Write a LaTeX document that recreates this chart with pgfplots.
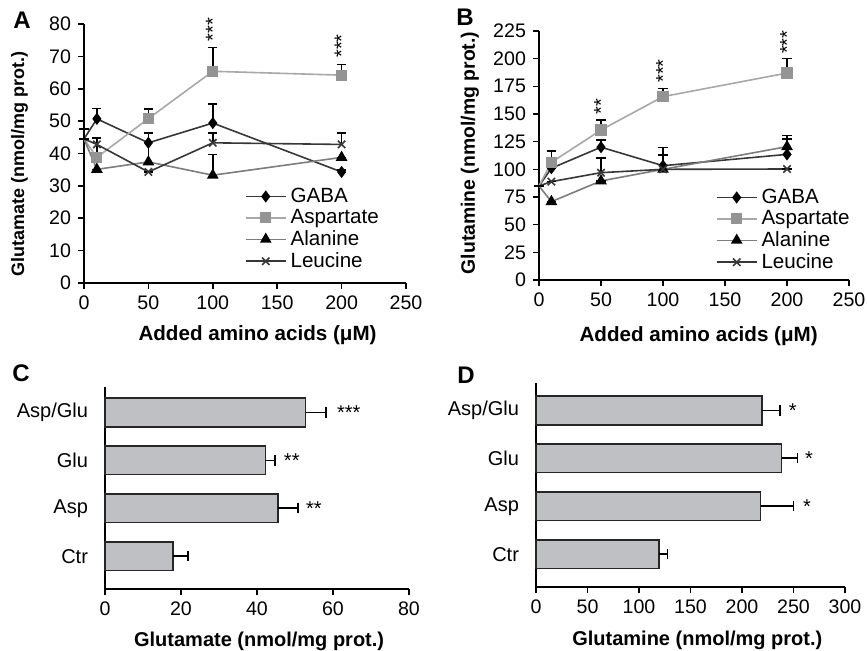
\documentclass[border=0pt]{standalone}
\usepackage{fontspec}
\setmainfont{Liberation Sans}
\usepackage{pgfplots}
\pgfplotsset{compat=1.18}

\definecolor{barfill}{RGB}{191,192,196}
\definecolor{aspline}{RGB}{168,168,168}
\definecolor{aspmark}{RGB}{148,148,148}
\definecolor{darkline}{RGB}{55,55,55}
\definecolor{alaline}{RGB}{125,125,125}

\tikzset{stars/.style={inner sep=0, font=\fontsize{10}{12}\selectfont}}

\pgfplotsset{
  panel/.style={
    scale only axis,
    axis lines=left,
    axis line style={-, line width=0.8pt},
    tick align=outside,
    major tick length=3pt,
    tick style={line width=0.8pt, black},
    ticklabel style={font=\fontsize{9.8}{11}\selectfont},
    /pgf/number format/assume math mode=true,
    clip=false,
  },
  linepanel/.style={
    panel, xmin=0, xmax=250, xtick={0,50,...,250}, ymin=0,
    legend style={draw=none, fill=none, font=\fontsize{10.3}{12}\selectfont,
      row sep=-2pt, legend cell align=left},
    legend image code/.code={%
      \draw[##1, mark repeat=2, mark phase=2] plot coordinates {(0pt,0pt) (10pt,0pt) (20pt,0pt)};},
  },
  % no marks at x = 0: marks start from the second point
  errs/.style={line width=0.8pt, mark repeat=1, mark phase=2,
      error bars/y dir=plus, error bars/y explicit,
      error bars/error bar style={black, line width=0.8pt, solid},
      error bars/error mark options={rotate=90, black, line width=0.8pt, mark size=2.3pt}},
  barpanel/.style={
    panel, xbar, bar width=0.6, xmin=0,
    ytick={0,1,2,3}, yticklabels={Ctr,Asp,Glu,Asp/Glu},
    ytick style={draw=none},
    yticklabel style={font=\fontsize{10}{12}\selectfont, xshift=-2pt},
  },
  bars/.style={fill=barfill, draw=black!85, line width=0.8pt,
      error bars/x dir=plus, error bars/x explicit,
      error bars/error bar style={black, line width=0.8pt},
      error bars/error mark options={rotate=90, black, line width=0.8pt, mark size=2.6pt}},
  gaba/.style={errs, darkline, mark=diamond*, mark options={black, fill=black, mark size=2.4pt}},
  asp/.style={errs, aspline, mark=square*, mark options={aspmark, fill=aspmark, mark size=2.4pt}},
  ala/.style={errs, alaline, mark=triangle*, mark options={black, fill=black, mark size=2.6pt}},
  leu/.style={errs, darkline, mark=x, mark options={darkline, mark size=2.6pt}},
}

\begin{document}
\begin{tikzpicture}
\path[use as bounding box] (0,0) rectangle (433.5pt,-325.5pt);

% ---------------- A ----------------
\begin{axis}[linepanel, at={(42pt,-141.5pt)}, anchor=south west,
  width=161pt, height=129.5pt, ymax=80, ytick={0,10,...,80},
  xlabel={Added amino acids (μM)}, ylabel={Glutamate (nmol/mg prot.)},
  xlabel style={at={(axis description cs:0.539,-0.2)}, anchor=center,
    font=\bfseries\fontsize{10.3}{12}\selectfont},
  ylabel style={at={(axis description cs:-0.2,0.46)}, anchor=center,
    font=\bfseries\fontsize{9}{11}\selectfont},
  legend style={at={(0.48,0.40)}, anchor=north west}]
\addplot[gaba] coordinates {(0,44.5) +- (0,3.0) (10,50.7) +- (0,3.2) (50,43.3) +- (0,3.0) (100,49.4) +- (0,5.8) (200,34.3) +- (0,0.6)};
\addlegendentry{GABA}
\addplot[asp] coordinates {(0,44.5) +- (0,0) (10,38.8) +- (0,5.8) (50,50.8) +- (0,3.0) (100,65.4) +- (0,7.3) (200,64.2) +- (0,3.3)};
\addlegendentry{Aspartate}
\addplot[ala] coordinates {(0,44.5) +- (0,0) (10,35.1) +- (0,0) (50,37.4) +- (0,9.0) (100,33.3) +- (0,6.4) (200,38.8) +- (0,0)};
\addlegendentry{Alanine}
\addplot[leu] coordinates {(0,44.5) +- (0,0) (10,42.8) +- (0,2.0) (50,34.3) +- (0,0) (100,43.3) +- (0,3.0) (200,42.8) +- (0,3.5)};
\addlegendentry{Leucine}
\node[stars, rotate=90, anchor=west] at (axis cs:100,74.5) {***};
\node[stars, rotate=90, anchor=west] at (axis cs:200,69.5) {***};
\end{axis}

% ---------------- B ----------------
\begin{axis}[linepanel, at={(269.5pt,-140pt)}, anchor=south west,
  width=155pt, height=124.5pt, ymax=225, ytick={0,25,...,225},
  xlabel={Added amino acids (μM)}, ylabel={Glutamine (nmol/mg prot.)},
  xlabel style={at={(axis description cs:0.515,-0.225)}, anchor=center,
    font=\bfseries\fontsize{10.3}{12}\selectfont},
  ylabel style={at={(axis description cs:-0.223,0.51)}, anchor=center,
    font=\bfseries\fontsize{9.7}{11}\selectfont},
  legend style={at={(0.55,0.40)}, anchor=north west}]
\addplot[gaba] coordinates {(0,85) +- (0,0) (10,101) +- (0,0) (50,120) +- (0,6.5) (100,103.3) +- (0,16.3) (200,113.5) +- (0,14)};
\addlegendentry{GABA}
\addplot[asp] coordinates {(0,85) +- (0,0) (10,106.3) +- (0,10.5) (50,135.5) +- (0,9) (100,165.7) +- (0,7.5) (200,187) +- (0,13.3)};
\addlegendentry{Aspartate}
\addplot[ala] coordinates {(0,85) +- (0,0) (10,70.8) +- (0,0) (50,89.5) +- (0,0) (100,100) +- (0,0) (200,120.5) +- (0,10)};
\addlegendentry{Alanine}
\addplot[leu] coordinates {(0,85) +- (0,0) (10,88.9) +- (0,0) (50,97) +- (0,13) (100,100) +- (0,13) (200,100.3) +- (0,0)};
\addlegendentry{Leucine}
\node[stars, rotate=90, anchor=west] at (axis cs:50,149) {**};
\node[stars, rotate=90, anchor=west] at (axis cs:100,178) {***};
\node[stars, rotate=90, anchor=west] at (axis cs:200,204) {***};
\end{axis}

% ---------------- C ----------------
\begin{axis}[barpanel, at={(52.5pt,-294.5pt)}, anchor=south west,
  width=152pt, height=101pt, xmax=80, xtick={0,20,...,80},
  ymin=-0.685, ymax=3.53,
  xlabel={Glutamate (nmol/mg prot.)},
  xlabel style={at={(axis description cs:0.507,-0.257)}, anchor=center,
    font=\bfseries\fontsize{10}{12}\selectfont}]
\addplot[bars] coordinates {(17.9,0) +- (4.0,0) (45.5,1) +- (5.3,0) (42.2,2) +- (2.6,0) (52.8,3) +- (5.4,0)};
\node[stars, anchor=west] at (axis cs:61,3) {***};
\node[stars, anchor=west] at (axis cs:47,2) {**};
\node[stars, anchor=west] at (axis cs:52.8,1) {**};
\end{axis}

% ---------------- D ----------------
\begin{axis}[barpanel, at={(268pt,-293.5pt)}, anchor=south west,
  width=154.5pt, height=102pt, xmax=300, xtick={0,50,...,300},
  ymin=-0.684, ymax=3.57,
  xlabel={Glutamine (nmol/mg prot.)},
  xlabel style={at={(axis description cs:0.522,-0.26)}, anchor=center,
    font=\bfseries\fontsize{10}{12}\selectfont}]
\addplot[bars] coordinates {(119.7,0) +- (8,0) (218,1) +- (31.8,0) (238.5,2) +- (15.5,0) (219.7,3) +- (17.2,0)};
\node[stars, anchor=west] at (axis cs:245,3) {*};
\node[stars, anchor=west] at (axis cs:261,2) {*};
\node[stars, anchor=west] at (axis cs:259,1) {*};
\end{axis}

% panel letters
\node[font=\bfseries\fontsize{12}{14}\selectfont] at (11pt,-10pt) {A};
\node[font=\bfseries\fontsize{12}{14}\selectfont] at (232.5pt,-8.5pt) {B};
\node[font=\bfseries\fontsize{12}{14}\selectfont] at (10.5pt,-186.5pt) {C};
\node[font=\bfseries\fontsize{12}{14}\selectfont] at (233pt,-187.5pt) {D};
\end{tikzpicture}
\end{document}
